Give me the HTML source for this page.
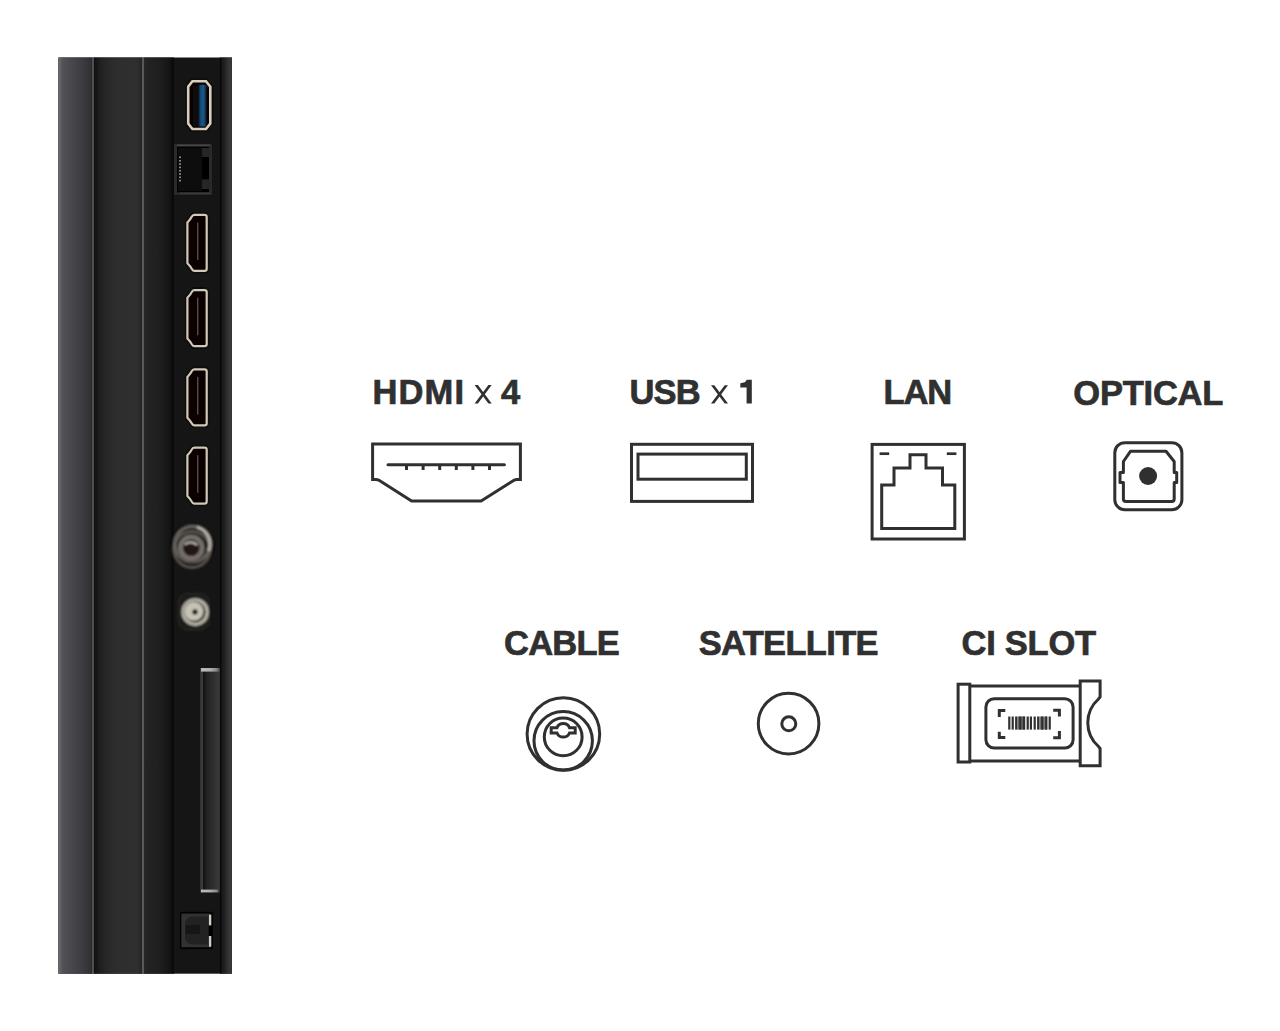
<!DOCTYPE html>
<html><head><meta charset="utf-8">
<style>
html,body{margin:0;padding:0;background:#fff;width:1280px;height:1031px;overflow:hidden}
svg{position:absolute;left:0;top:0;display:block}
text{font-family:"Liberation Sans",sans-serif;fill:#303030;stroke:#303030;stroke-width:0.7px;font-size:34.5px;font-weight:bold}
.ic{fill:none;stroke:#303030;stroke-width:3}
</style></head><body>
<svg width="1280" height="1031" viewBox="0 0 1280 1031">
<defs>
<linearGradient id="gA" x1="58" x2="92" y1="0" y2="0" gradientUnits="userSpaceOnUse">
<stop offset="0" stop-color="#6c6c6e"/><stop offset="0.07" stop-color="#636266"/><stop offset="0.12" stop-color="#535257"/><stop offset="0.3" stop-color="#4b4a4f"/><stop offset="0.55" stop-color="#434247"/><stop offset="0.8" stop-color="#39383d"/><stop offset="0.95" stop-color="#303035"/><stop offset="1" stop-color="#2a2a2e"/>
</linearGradient>
<linearGradient id="gB" x1="94" x2="141.5" y1="0" y2="0" gradientUnits="userSpaceOnUse">
<stop offset="0" stop-color="#111"/><stop offset="0.05" stop-color="#151515"/><stop offset="0.12" stop-color="#1f1f1f"/><stop offset="0.25" stop-color="#272727"/><stop offset="0.45" stop-color="#2d2d2d"/><stop offset="0.9" stop-color="#2f2f2f"/><stop offset="1" stop-color="#262626"/>
</linearGradient>
<linearGradient id="gC" x1="144" x2="171.5" y1="0" y2="0" gradientUnits="userSpaceOnUse">
<stop offset="0" stop-color="#282828"/><stop offset="0.1" stop-color="#222"/><stop offset="0.45" stop-color="#202020"/><stop offset="0.7" stop-color="#1b1b1b"/><stop offset="1" stop-color="#121212"/>
</linearGradient>
<linearGradient id="gE" x1="221.5" x2="232" y1="0" y2="0" gradientUnits="userSpaceOnUse">
<stop offset="0" stop-color="#161616"/><stop offset="0.35" stop-color="#242424"/><stop offset="0.7" stop-color="#353535"/><stop offset="0.9" stop-color="#393939"/><stop offset="1" stop-color="#303030"/>
</linearGradient>
<linearGradient id="gBlue" x1="198.5" x2="206.2" y1="0" y2="0" gradientUnits="userSpaceOnUse">
<stop offset="0" stop-color="#0a1e38"/><stop offset="0.3" stop-color="#154a78"/><stop offset="0.6" stop-color="#1a5a8a"/><stop offset="1" stop-color="#0a2748"/>
</linearGradient>
<linearGradient id="gSlot" x1="200.2" x2="219.8" y1="0" y2="0" gradientUnits="userSpaceOnUse">
<stop offset="0" stop-color="#3a3a3a"/><stop offset="0.13" stop-color="#383838"/><stop offset="0.16" stop-color="#161616"/><stop offset="0.22" stop-color="#151515"/><stop offset="0.3" stop-color="#202020"/><stop offset="0.5" stop-color="#282828"/><stop offset="0.9" stop-color="#383838"/><stop offset="1" stop-color="#393939"/>
</linearGradient>
<linearGradient id="gHi" x1="201" x2="219" y1="0" y2="0" gradientUnits="userSpaceOnUse">
<stop offset="0" stop-color="#bbbbbb"/><stop offset="0.5" stop-color="#b0b0b0"/><stop offset="0.85" stop-color="#888"/><stop offset="1" stop-color="#555"/>
</linearGradient>
<radialGradient id="gSat" cx="195" cy="611" r="14" gradientUnits="userSpaceOnUse">
<stop offset="0" stop-color="#d0cdc2"/><stop offset="0.65" stop-color="#bdb9ad"/><stop offset="0.75" stop-color="#5a574e"/><stop offset="0.85" stop-color="#aaa698"/><stop offset="1" stop-color="#6a675c"/>
</radialGradient>
<filter id="blur1" x="-20%" y="-20%" width="140%" height="140%"><feGaussianBlur stdDeviation="0.9"/></filter>
<filter id="blur05" x="-20%" y="-20%" width="140%" height="140%"><feGaussianBlur stdDeviation="0.45"/></filter>
</defs>

<!-- TV panel -->
<rect x="58.3" y="57.5" width="173.7" height="916.2" fill="#151515"/>
<rect x="58.3" y="57.5" width="34" height="916.2" fill="url(#gA)"/>
<rect x="92.2" y="57.5" width="1.7" height="916.2" fill="#5e5e5e"/>
<rect x="93.9" y="57.5" width="48.1" height="916.2" fill="url(#gB)"/>
<rect x="142" y="57.5" width="2" height="916.2" fill="#585858"/>
<rect x="144" y="57.5" width="27.3" height="916.2" fill="url(#gC)"/>
<rect x="171.3" y="57.5" width="2.7" height="916.2" fill="#0b0b0b"/>
<rect x="219.8" y="57.5" width="1.8" height="916.2" fill="#0a0a0a"/>
<rect x="221.6" y="57.5" width="10.4" height="916.2" fill="url(#gE)"/>

<!-- panel USB -->
<g filter="url(#blur05)">
<path d="M192.4,81.3 H206 L210.3,86.7 V123.6 L206,129 H192.4 L188.2,123.6 V86.7 Z" fill="#070605" stroke="#0a0a0a" stroke-width="6"/>
<path d="M192.4,81.3 H206 L210.3,86.7 V123.6 L206,129 H192.4 L188.2,123.6 V86.7 Z" fill="#070605" stroke="#d6cfbd" stroke-width="2.6"/>
<rect x="193" y="86" width="5.5" height="40" fill="#0d0a09"/>
<rect x="198.5" y="84.8" width="7.7" height="41.6" fill="url(#gBlue)"/>

</g>
<!-- panel LAN -->
<g filter="url(#blur05)">
<rect x="173.8" y="143.7" width="38.3" height="51.8" fill="#060606"/>
<rect x="175.5" y="145.3" width="35" height="48.5" fill="none" stroke="#2c2c2c" stroke-width="3"/>
<line x1="177" y1="145.3" x2="210" y2="145.3" stroke="#454545" stroke-width="1.5"/>
<rect x="178" y="148" width="24" height="43" fill="#080808"/>
<rect x="202" y="148" width="7.6" height="9" fill="#262626"/>
<rect x="202" y="179.5" width="7.6" height="9.5" fill="#262626"/>
<g fill="#8a8a82">
<rect x="179" y="156.5" width="2" height="1.6"/><rect x="179" y="160" width="2" height="1.6"/><rect x="179" y="163.3" width="2" height="1.6"/><rect x="179" y="166.6" width="2" height="1.6"/><rect x="179" y="169.9" width="2" height="1.6"/><rect x="179" y="173.2" width="2" height="1.6"/><rect x="179" y="176.5" width="2" height="1.6"/><rect x="179" y="179.8" width="2" height="1.6"/>
</g>
<rect x="180" y="192.5" width="30" height="1.5" fill="#3a3a3a"/>
</g>

<!-- panel HDMI x4 -->
<g id="ph1" filter="url(#blur05)">
<path d="M194.3,214.8 H204.6 Q206.7,214.8 206.7,216.9 V268.7 Q206.7,270.8 204.6,270.8 H194.3 Q192.6,270.8 191.7,268.8 Q190.7,266.6 187.4,263.2 V222.4 Q190.7,219 191.7,216.8 Q192.6,214.8 194.3,214.8 Z" fill="#060505" stroke="#0b0b0b" stroke-width="5"/>
<path d="M194.3,214.8 H204.6 Q206.7,214.8 206.7,216.9 V268.7 Q206.7,270.8 204.6,270.8 H194.3 Q192.6,270.8 191.7,268.8 Q190.7,266.6 187.4,263.2 V222.4 Q190.7,219 191.7,216.8 Q192.6,214.8 194.3,214.8 Z" fill="#070606" stroke="#cfc9b6" stroke-width="2.2"/>
<line x1="197.7" y1="222.5" x2="197.7" y2="260" stroke="#4e4e4e" stroke-width="1.4"/>
</g>
<use href="#ph1" transform="translate(0,75.3)"/>
<use href="#ph1" transform="translate(0,154.5)"/>
<use href="#ph1" transform="translate(0,232.8)"/>

<!-- panel cable -->
<g filter="url(#blur1)">
<circle cx="192.4" cy="546" r="22" fill="#0e0d0c"/>
<circle cx="192" cy="549.5" r="18" fill="none" stroke="#57534e" stroke-width="3"/>
<circle cx="192.5" cy="544" r="17.6" fill="none" stroke="#66625c" stroke-width="3.4"/>
<path d="M197,527 A17.6,17.6 0 0 1 208.5,551" fill="none" stroke="#b4afa6" stroke-width="3.2"/>
<circle cx="191.7" cy="547.5" r="14.2" fill="#1a1411"/>
<circle cx="191.3" cy="547.8" r="10.8" fill="none" stroke="#736e68" stroke-width="5"/>
<circle cx="191" cy="549" r="6.8" fill="#211814"/>
<path d="M184.6,544.6 Q191,539.6 197.4,545" fill="none" stroke="#c2bdb2" stroke-width="1.8"/>
</g>

<!-- panel satellite -->
<g filter="url(#blur1)">
<rect x="177.5" y="592.5" width="32.5" height="38.3" rx="10" fill="#1e1d1a"/>
<rect x="178.5" y="593.5" width="30.5" height="36.3" rx="9" fill="none" stroke="#2a2925" stroke-width="1.2"/>
<circle cx="195.2" cy="612.1" r="12.1" fill="none" stroke="#b4b1a4" stroke-width="3.4"/>
<circle cx="194.4" cy="611.6" r="10.3" fill="#4a473f"/>
<circle cx="193.9" cy="611.3" r="9.3" fill="#c6c3b6"/>
<circle cx="195" cy="611.9" r="2.6" fill="#050505"/>
</g>

<!-- panel CI slot -->
<rect x="200.2" y="668" width="19.6" height="224.4" fill="url(#gSlot)"/>
<rect x="201" y="668" width="18.5" height="3.6" fill="url(#gHi)"/>
<rect x="201" y="889.6" width="17.4" height="2.8" fill="url(#gHi)"/>

<!-- panel optical -->
<g filter="url(#blur05)">
<rect x="179.9" y="911.8" width="33" height="37.3" fill="#060606"/>
<rect x="181.3" y="913.7" width="29.6" height="33.5" fill="#313131"/>
<path d="M191.5,916.5 H208 V944.5 H191.5 Q189,944.5 187.5,942.5 L185.2,939.5 V921.5 L187.5,918.5 Q189,916.5 191.5,916.5 Z" fill="#222221"/>
<rect x="185.5" y="925" width="14.5" height="9" fill="#181817"/>
<rect x="208.5" y="925" width="4" height="11" fill="#030303"/>
<rect x="209" y="914.7" width="2.3" height="10.7" fill="#cfcfc6"/>
<rect x="209" y="936" width="2.3" height="10.7" fill="#cfcfc6"/>
</g>

<!-- labels -->
<text x="372.43" y="403.7" letter-spacing="1.158">HDMI</text>
<path d="M474.6,385.1 H477.9 L491.7,403.4 H488.4 Z M488.4,385.1 H491.7 L477.9,403.4 H474.6 Z" fill="#303030"/>
<text x="500.9" y="403.7">4</text>
<text x="629.51" y="403.7" letter-spacing="-0.869">USB</text>
<path d="M711,385.3 H714.3 L728,403.5 H724.7 Z M724.7,385.3 H728 L714.3,403.5 H711 Z" fill="#303030"/>
<path d="M746.6,379.8 H751.8 V403.5 H746.6 V387.5 H740.3 V383.2 Q745.8,383 746.6,379.8 Z" fill="#303030"/>
<text x="883.43" y="403.5" letter-spacing="-1.097">LAN</text>
<text x="1073.37" y="404.7" letter-spacing="-0.233">OPTICAL</text>
<text x="504.07" y="655.3" letter-spacing="-0.786">CABLE</text>
<text x="698.66" y="655.3" letter-spacing="-0.668">SATELLITE</text>
<text x="961.57" y="655.3" letter-spacing="-0.27">CI SLOT</text>

<!-- HDMI icon -->
<path class="ic" d="M372.6,444 H520.4 V479.4 H517 Q515.5,479.4 514,480.3 L481.1,500.9 H411.6 L379,480.3 Q377.5,479.4 376,479.4 H372.6 Z" stroke-width="3.1"/>
<line x1="388" y1="464.8" x2="504.4" y2="464.8" stroke="#303030" stroke-width="3" stroke-linecap="round"/>
<g fill="#303030">
<rect x="405" y="465" width="3" height="5"/><rect x="421.6" y="465" width="3" height="5"/><rect x="438.2" y="465" width="3" height="5"/><rect x="454.8" y="465" width="3" height="5"/><rect x="471.4" y="465" width="3" height="5"/><rect x="488" y="465" width="3" height="5"/>
</g>

<!-- USB icon -->
<rect class="ic" x="631.5" y="444.3" width="121" height="57.1" stroke-width="3.2"/>
<rect class="ic" x="638" y="454.1" width="108.3" height="25.1" stroke-width="3.2"/>

<!-- LAN icon -->
<rect class="ic" x="872.1" y="444.4" width="92.3" height="94.6"/>
<path class="ic" d="M881.7,528.4 V485.1 H894 V468 H910 V454.7 H926 V468 H942.5 V485.1 H954.8 V528.4 Z"/>
<line x1="879.6" y1="453.7" x2="889.2" y2="453.7" stroke="#303030" stroke-width="2.7"/>
<line x1="946.8" y1="453.7" x2="956.4" y2="453.7" stroke="#303030" stroke-width="2.7"/>

<!-- OPTICAL icon -->
<rect class="ic" x="1114.8" y="442.7" width="67.1" height="67" rx="10" stroke-width="3"/>
<path class="ic" d="M1130.6,451.2 H1166 L1174.2,461.5 V472.6 H1176.7 V482.4 H1174.2 V499 Q1174.2,501.6 1171.6,501.6 H1126 Q1123.4,501.6 1123.4,499 V482.4 H1120 V472.6 H1123.4 V461.5 Z" stroke-width="3" stroke-linejoin="round"/>
<circle cx="1148.1" cy="476" r="9" fill="#303030"/>

<!-- CABLE icon -->
<circle class="ic" cx="563.4" cy="734" r="36.3"/>
<circle class="ic" cx="563.2" cy="740.8" r="29.2"/>
<circle class="ic" cx="563.2" cy="736.9" r="18.9"/>
<path class="ic" d="M557,727.7 H551.2 V733 H557 A6.8,6.8 0 0 0 569.5,733 H575.2 V727.7 H569.5 A6.8,6.8 0 0 0 557,727.7 Z" stroke-width="2.8"/>

<!-- SATELLITE icon -->
<circle class="ic" cx="788.6" cy="723.6" r="30.3"/>
<circle class="ic" cx="788.8" cy="723.8" r="7"/>

<!-- CI SLOT icon -->
<rect class="ic" x="958.1" y="684.2" width="11.7" height="77.8"/>
<line x1="969.8" y1="685.9" x2="1080.2" y2="685.9" stroke="#303030" stroke-width="3"/>
<line x1="969.8" y1="761.1" x2="1080.2" y2="761.1" stroke="#303030" stroke-width="3"/>
<path class="ic" d="M1080.2,681 H1100.1 V697 L1098.5,699 A31.7,31.7 0 0 0 1098.5,746.5 L1100.1,748.5 V765.8 H1080.2 Z"/>
<rect class="ic" x="985.9" y="698.7" width="87.2" height="49.3" rx="8.3"/>
<path class="ic" d="M999.3,716.9 V710.5 H1005.3 M1053.2,710.3 H1059.4 V716.4 M999.3,731.7 V737.6 H1005.3 M1053.2,737.7 H1059.4 V731"/>
<g fill="#303030">
<rect x="1008.2" y="716.5" width="2.2" height="13.1"/>
<rect x="1011.6" y="716.5" width="2.2" height="13.1"/>
<rect x="1015.1" y="716.5" width="2.2" height="13.1"/>
<rect x="1017.3" y="716.5" width="8" height="13.1" fill="#6a6a6a"/>
<rect x="1019.1" y="716.5" width="2.2" height="13.1"/>
<rect x="1022.8" y="716.5" width="2.2" height="13.1"/>
<rect x="1026.6" y="716.5" width="2.2" height="13.1"/>
<rect x="1029.8" y="716.5" width="2.2" height="13.1"/>
<rect x="1033.6" y="716.5" width="2.2" height="13.1"/>
<rect x="1037.1" y="716.5" width="2.2" height="13.1"/>
<rect x="1039.3" y="716.5" width="8" height="13.1" fill="#777"/>
<rect x="1041.1" y="716.5" width="2.2" height="13.1"/>
<rect x="1045.1" y="716.5" width="2.2" height="13.1"/>
<rect x="1048.6" y="716.5" width="2.2" height="13.1"/>
</g>

</svg>
</body></html>
